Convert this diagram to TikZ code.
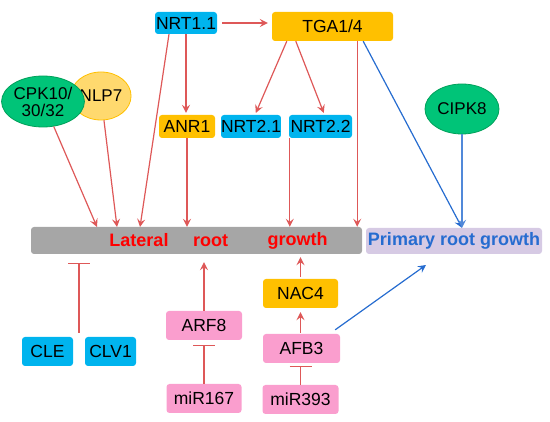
\documentclass[tikz,border=0pt]{standalone}
\usepackage{fontspec}
\setmainfont{Liberation Sans}
\usetikzlibrary{arrows.meta,positioning,calc,shapes.geometric}
\definecolor{genecyan}{RGB}{0,180,238}
\definecolor{geneorange}{RGB}{255,192,0}
\definecolor{genepink}{RGB}{250,158,206}
\definecolor{genegreen}{RGB}{0,196,120}
\definecolor{genegreenline}{RGB}{0,160,90}
\definecolor{geneyellow}{RGB}{255,217,110}
\definecolor{barred}{RGB}{222,88,88}
\definecolor{barblue}{RGB}{38,108,208}
\definecolor{lavender}{RGB}{214,202,228}

\begin{document}
\begin{tikzpicture}[x=1pt,y=-1pt,
  gene/.style={rounded corners=3pt, inner sep=0pt, minimum height=29pt, font=\fontsize{17.5}{19}\selectfont},
  cyanbox/.style={gene, fill=genecyan},
  orangebox/.style={gene, fill=geneorange},
  pinkbox/.style={gene, fill=genepink},
  blob/.style={ellipse, inner sep=0pt, line width=0.8pt, font=\fontsize{17}{17}\selectfont, align=center},
  act/.style={draw=barred, line width=1.2pt, -{Stealth[length=8pt,width=8pt,inset=3pt]}},
  inh/.style={draw=barred, line width=1.2pt, -{Bar[width=22pt,line width=1.2pt]}},
  bact/.style={draw=barblue, line width=1.2pt, -{Stealth[length=8pt,width=8pt,inset=3pt]}},
  lbl/.style={text=red, font=\bfseries\fontsize{18}{20}\selectfont}]
\useasboundingbox (0,0) rectangle (550,422);

% nitrate sensing / signalling, top row
\node[cyanbox, minimum width=62pt, minimum height=22pt] (nrt11) at (186,23) {NRT1.1};
\node[orangebox, minimum width=121pt] (tga) at (332.5,26.5) {TGA1/4};
\node[orangebox, minimum width=56pt, minimum height=23pt] (anr1) at (187,126.5) {ANR1};
\node[cyanbox, minimum width=58pt, minimum height=23pt] (nrt21) at (251,126.5) {NRT2.1};
\node[cyanbox, minimum width=63pt, minimum height=23pt] (nrt22) at (320.5,126.5) {NRT2.2};

% ellipses (green one drawn over the yellow one)
\node[blob, fill=geneyellow, draw=geneorange, minimum width=57pt, minimum height=48pt] (nlp7) at (101,96) {NLP7};
\node[blob, fill=genegreen, draw=genegreenline, minimum width=74pt, minimum height=51pt] (cpk) at (43,101.5) {CPK10/\\30/32};
\node[blob, fill=genegreen, draw=genegreenline, minimum width=74pt, minimum height=50pt] (cipk8) at (462,109) {CIPK8};

% growth bars
\node[rounded corners=3pt, fill=black!35, minimum width=331pt, minimum height=27pt, inner sep=0pt] (bar) at (196.5,240.5) {};
\node[lbl] (lat) at (139,240.5) {Lateral};
\node[lbl] (rt) at (210.5,240.5) {root};
\node[lbl] (gr) at (297.5,240.5) {growth};
\node[rounded corners=3pt, fill=lavender, minimum width=176pt, minimum height=26pt, inner sep=0pt,
      text=barblue, font=\bfseries\fontsize{18}{20}\selectfont] (primary) at (454,241) {Primary root growth};

% lower part
\node[cyanbox, minimum width=51pt] (cle) at (47.5,351.5) {CLE};
\node[cyanbox, minimum width=51pt] (clv1) at (110.5,351.5) {CLV1};
\node[pinkbox, minimum width=76pt] (arf8) at (204,325.5) {ARF8};
\node[pinkbox, minimum width=75pt] (mir167) at (204,398.5) {miR167};
\node[orangebox, minimum width=75pt] (nac4) at (300.5,293.5) {NAC4};
\node[pinkbox, minimum width=77pt] (afb3) at (301.5,348.5) {AFB3};
\node[pinkbox, minimum width=76pt] (mir393) at (300.5,399.5) {miR393};

% free ends on the lateral root bar
\coordinate (l1) at (97,227);
\coordinate (l2) at (117,227);
\coordinate (l3) at (140,227);
\coordinate (cx) at ($(cle.north east)!0.5!(clv1.north west)+(0,-4)$);
\coordinate (pg) at (426,265);

% arrows into lateral root growth
\draw[act, shorten <=5pt, shorten >=4pt] (nrt11.east) -- (nrt11.east -| tga.west);
\draw[act] (cpk) -- (l1);
\draw[act] (nlp7) -- (l2);
\draw[act] ([xshift=-17pt]nrt11.south) -- (l3);
\draw[act, shorten >=2pt] (nrt11.south) -- (nrt11.south |- anr1.north);
\draw[act] (anr1.south) -- (anr1.south |- bar.north);
\draw[act, shorten >=2pt] ([xshift=15pt]tga.south west) -- ([xshift=4pt]nrt21.north);
\draw[act, shorten >=2pt] ([xshift=24pt]tga.south west) -- ([xshift=4pt]nrt22.north);
\draw[act] ([xshift=1pt]nrt22.south west) -- ([xshift=1pt]nrt22.south west |- bar.north);
\draw[act] ([xshift=-36pt]tga.south east) -- ([xshift=-36pt]tga.south east |- bar.north);

% primary root growth
\draw[bact] ([xshift=-30pt]tga.south east) -- (cipk8 |- primary.north);
\draw[bact, draw=barblue!80!white] (cipk8.south) -- (cipk8 |- primary.north);
\draw[bact] ([xshift=-5pt,yshift=4pt]afb3.north east) -- (pg);

% lower regulators
\draw[inh, shorten >=9pt] (cx) -- (cx |- bar.south);
\draw[act, shorten >=8pt] (arf8.north) -- (arf8.north |- bar.south);
\draw[inh, shorten >=5pt] (mir167.north) -- (arf8.south);
\draw[act, shorten <=2pt, shorten >=3pt] (nac4.north) -- (nac4.north |- bar.south);
\draw[act, shorten <=1pt, shorten >=4pt] (afb3.north -| nac4.north) -- (nac4.south);
\draw[inh, shorten >=3pt] (mir393.north) -- (mir393.north |- afb3.south);
\end{tikzpicture}
\end{document}
